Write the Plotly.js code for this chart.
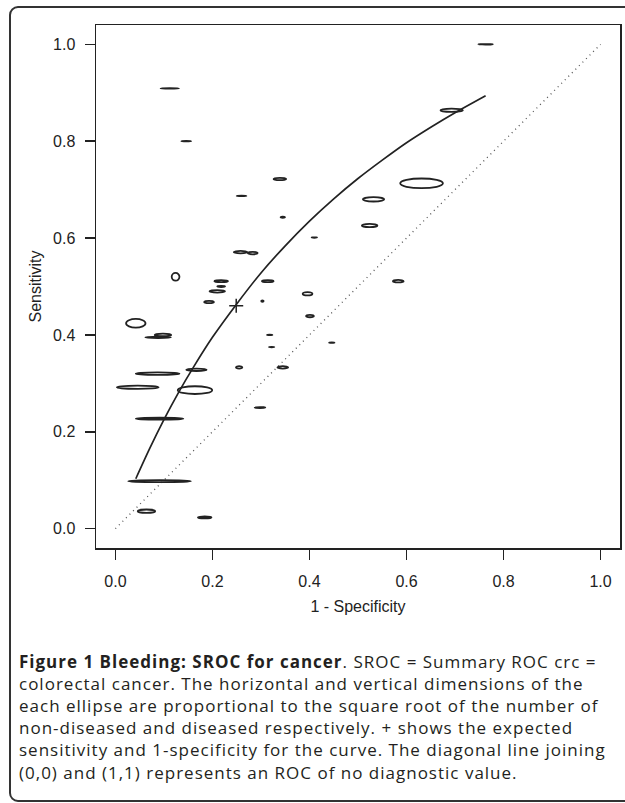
<!DOCTYPE html>
<html>
<head>
<meta charset="utf-8">
<script src="https://cdn.plot.ly/plotly-3.0.1.min.js"></script>
<style>
  html, body { margin: 0; padding: 0; background: #fff; }
  #wrap { position: relative; width: 625px; height: 803px; overflow: hidden; }
  #chart { position: absolute; left: 0; top: 0; width: 625px; height: 803px; }
  #frame { position: absolute; left: 9px; top: 6px; width: 700px; height: 796px; box-sizing: border-box;
           border: 2px solid #333; border-radius: 9px; pointer-events: none; }
  .annotation-text { letter-spacing: 1px; }
</style>
</head>
<body>
<div id="wrap">
  <div id="chart"></div>
  <div id="frame"></div>
</div>
<script>
// Study estimates: 1 - specificity (x) and sensitivity (y)
const studyX = [0.763, 0.112, 0.146, 0.339, 0.260, 0.345, 0.410, 0.693, 0.631, 0.532,
                0.524, 0.258, 0.283, 0.124, 0.314, 0.218, 0.218, 0.210, 0.193, 0.303,
                0.396, 0.401, 0.583, 0.042, 0.098, 0.088, 0.318, 0.322, 0.446, 0.255,
                0.345, 0.087, 0.167, 0.046, 0.164, 0.298, 0.091, 0.091, 0.064, 0.184];
const studyY = [1.000, 0.909, 0.800, 0.722, 0.687, 0.643, 0.601, 0.864, 0.713, 0.680,
                0.626, 0.571, 0.569, 0.520, 0.511, 0.511, 0.500, 0.490, 0.468, 0.470,
                0.485, 0.439, 0.511, 0.424, 0.400, 0.395, 0.400, 0.375, 0.384, 0.333,
                0.333, 0.320, 0.328, 0.292, 0.286, 0.250, 0.227, 0.098, 0.036, 0.023];
// Ellipse extents (axis units): horizontal ~ sqrt(non-diseased), vertical ~ sqrt(diseased)
const ellW = [0.030, 0.038, 0.020, 0.026, 0.020, 0.009, 0.011, 0.046, 0.088, 0.044,
              0.032, 0.028, 0.020, 0.016, 0.024, 0.028, 0.016, 0.032, 0.020, 0.005,
              0.020, 0.016, 0.022, 0.040, 0.034, 0.053, 0.011, 0.011, 0.011, 0.013,
              0.022, 0.090, 0.042, 0.086, 0.071, 0.022, 0.098, 0.129, 0.036, 0.028];
const ellH = [0.001, 0.001, 0.001, 0.005, 0.001, 0.002, 0.001, 0.007, 0.020, 0.009,
              0.007, 0.005, 0.005, 0.016, 0.004, 0.004, 0.002, 0.005, 0.005, 0.003,
              0.007, 0.005, 0.005, 0.018, 0.005, 0.003, 0.001, 0.001, 0.001, 0.005,
              0.005, 0.005, 0.005, 0.007, 0.016, 0.002, 0.004, 0.004, 0.007, 0.004];
// SROC curve
const curveX = [0.042, 0.070, 0.100, 0.130, 0.160, 0.200, 0.250, 0.300, 0.350, 0.400,
                0.450, 0.500, 0.550, 0.600, 0.650, 0.700, 0.763];
const curveY = [0.103, 0.164, 0.225, 0.281, 0.332, 0.395, 0.464, 0.528, 0.584, 0.635,
                0.681, 0.723, 0.761, 0.797, 0.829, 0.859, 0.894];
// Expected sensitivity / 1-specificity
const expX = [0.249];
const expY = [0.460];
// Line of no diagnostic value
const diagX = [0, 1];
const diagY = [0, 1];
const tickVals = [0, 0.2, 0.4, 0.6, 0.8, 1.0];
const tickText = ['0.0', '0.2', '0.4', '0.6', '0.8', '1.0'];
const captionLines = [
  '<b>Figure 1 Bleeding: SROC for cancer</b>. SROC = Summary ROC crc =',
  'colorectal cancer. The horizontal and vertical dimensions of the',
  'each ellipse are proportional to the square root of the number of',
  'non-diseased and diseased respectively. + shows the expected',
  'sensitivity and 1-specificity for the curve. The diagonal line joining',
  '(0,0) and (1,1) represents an ROC of no diagnostic value.'
];

const ink = '#222222';
const shapes = studyX.map((x, i) => ({
  type: 'circle', xref: 'x', yref: 'y', layer: 'above',
  x0: x - ellW[i] / 2, x1: x + ellW[i] / 2,
  y0: studyY[i] - ellH[i] / 2, y1: studyY[i] + ellH[i] / 2,
  line: { color: ink, width: 1.8 }, fillcolor: 'rgba(0,0,0,0)'
}));

const traces = [
  { x: diagX, y: diagY, mode: 'lines', line: { color: '#555', width: 1.3, dash: '1px,4px' }, hoverinfo: 'skip' },
  { x: curveX, y: curveY, mode: 'lines', line: { color: ink, width: 1.7, shape: 'spline', smoothing: 0.6 } },
  { x: expX, y: expY, mode: 'markers', marker: { symbol: 'cross-thin', size: 10, line: { color: ink, width: 1.5 } } }
];

const axisFont = { family: 'Liberation Sans, Arial, sans-serif', size: 16, color: ink };
const axisCommon = {
  range: [-0.04, 1.04], tickvals: tickVals, ticktext: tickText,
  showline: true, mirror: true, linecolor: ink, linewidth: 1.5,
  ticks: 'outside', ticklen: 10, tickwidth: 1.5, tickcolor: ink,
  showgrid: false, zeroline: false, tickfont: axisFont
};

const layout = {
  width: 625, height: 803,
  margin: { l: 96, r: 5, t: 25, b: 255 },
  paper_bgcolor: 'rgba(0,0,0,0)', plot_bgcolor: '#fff',
  showlegend: false,
  xaxis: Object.assign({}, axisCommon, {
    ticklabelstandoff: 8,
    title: { text: '1 - Specificity', standoff: 12, font: axisFont }
  }),
  yaxis: Object.assign({}, axisCommon, {
    ticklabelstandoff: 6,
    title: { text: 'Sensitivity', standoff: 7, font: axisFont }
  }),
  shapes: shapes,
  annotations: [{
    xref: 'paper', yref: 'paper', x: (17 - 96) / 524, y: (548 - 648) / 523,
    xanchor: 'left', yanchor: 'top', align: 'left', showarrow: false,
    text: captionLines.join('<br>'),
    font: { family: 'Open Sans, Noto Sans, sans-serif', size: 17, color: '#231f20' }
  }]
};

Plotly.newPlot('chart', traces, layout, { staticPlot: true, displayModeBar: false });
</script>
</body>
</html>
